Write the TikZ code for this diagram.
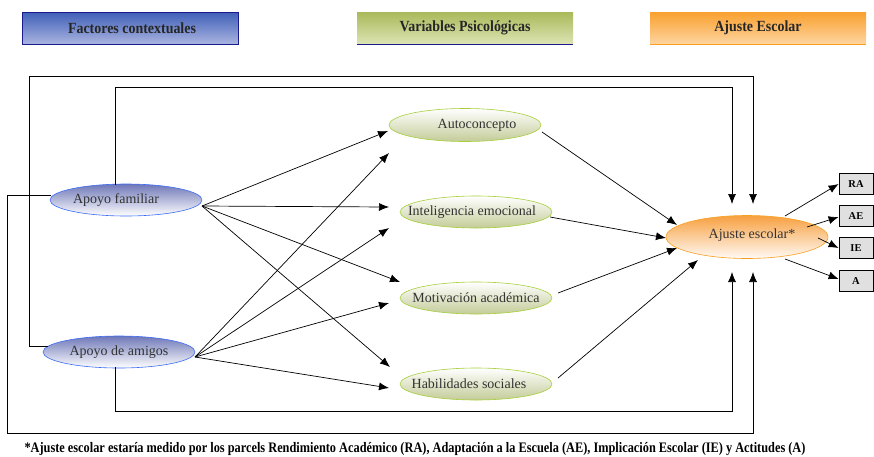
\documentclass[tikz,border=0pt]{standalone}
\usepackage{fontspec}
\setmainfont{Liberation Serif}
\newfontfamily\hdrfont[FakeStretch=0.9]{Liberation Serif}
\newfontfamily\notefont[FakeStretch=0.85]{Liberation Serif}
\usetikzlibrary{shapes.geometric,arrows.meta}
\definecolor{hblueT}{HTML}{3F5FB8}
\definecolor{hblueB}{HTML}{AAB4E0}
\definecolor{hgreenT}{HTML}{AAB95A}
\definecolor{hgreenB}{HTML}{DDE4B4}
\definecolor{horT}{HTML}{F9A02E}
\definecolor{horB}{HTML}{FED5A0}
\definecolor{navy}{HTML}{1A1A8C}
\definecolor{eblue}{HTML}{3D6CF5}
\definecolor{eblueT}{HTML}{6E78B8}
\definecolor{egreen}{HTML}{A6CF3A}
\definecolor{egreenB}{HTML}{C3CC98}
\definecolor{eor}{HTML}{F7A020}
\definecolor{eorT}{HTML}{F7A040}
\definecolor{txt}{HTML}{333333}
\definecolor{lgray}{HTML}{E0E0E0}
\tikzset{
  hdr/.style={rectangle, minimum width=216pt, minimum height=32pt, inner sep=0pt,
    font=\hdrfont\bfseries\fontsize{15.5}{17}\selectfont, text=black!85},
  ell/.style={ellipse, minimum width=152pt, minimum height=32pt, inner xsep=-30pt, inner ysep=0pt,
    font=\fontsize{14}{16}\selectfont, text=txt, line width=0.6pt},
  ctx/.style={ell, draw=eblue, top color=eblueT, bottom color=white},
  psy/.style={ell, draw=egreen, top color=white, bottom color=egreenB},
  outc/.style={ell, draw=eor, top color=eorT, bottom color=white!96!orange,
    minimum width=162pt, minimum height=43pt},
  ind/.style={rectangle, draw=black, fill=lgray, minimum width=34pt, minimum height=21pt,
    inner sep=0pt, line width=0.8pt, font=\bfseries\fontsize{10.5}{12}\selectfont},
  arr/.style={-{Latex[length=10pt,width=8pt]}, line width=0.7pt, black},
}
\begin{document}
\begin{tikzpicture}[x=1pt,y=-1pt]
\useasboundingbox (0,0) rectangle (874,456);
% headers
\node[hdr, top color=hblueT, bottom color=hblueB, draw=navy, line width=0.6pt] (h1) at (130,28) {\hspace*{4pt}Factores contextuales};
\node[hdr, top color=hgreenT, bottom color=hgreenB] (h2) at (465,28) {Variables Psicológicas};
\draw[navy, line width=1pt] (h2.south west) -- (h2.south east);
\node[hdr, top color=horT, bottom color=horB] (h3) at (758,28) {Ajuste Escolar};
\draw[eor, line width=1pt] (h3.south west) -- (h3.south east);

% ellipses
\node[ctx] (fam) at (126,200) {\hspace*{-20pt}\raisebox{2pt}{Apoyo familiar}};
\node[ctx] (ami) at (119,352) {Apoyo de amigos};
\node[psy, minimum height=33pt] (auto) at (465,125) {\hspace*{24pt}\raisebox{2pt}{Autoconcepto}};
\node[psy] (inte) at (476,212) {\hspace*{-8pt}Inteligencia emocional};
\node[psy] (moti) at (476,298) {Motivación académica};
\node[psy] (habi) at (476,384) {\hspace*{-14pt}Habilidades sociales};
\node[outc] (aj) at (747,237) {\hspace*{10pt}\raisebox{6pt}{Ajuste escolar*}};

% indicator boxes
\node[ind] (RA) at (856,184) {RA};
\node[ind] (AE) at (856,216) {AE};
\node[ind] (IE) at (856,248) {IE};
\node[ind] (A) at (856,281) {A};

% coordinates
\coordinate (famR) at (202,206);
\coordinate (amiR) at (195,357);
\coordinate (tFauto) at (388,131);
\coordinate (tFinte) at (389,207);
\coordinate (tFmoti) at (400,282);
\coordinate (tFhabi) at (390,367);
\coordinate (tAauto) at (389,153);
\coordinate (tAinte) at (389,228);
\coordinate (tAmoti) at (389,303);
\coordinate (tAhabi) at (389,388);
\coordinate (sauto) at (542,132);
\coordinate (sinte) at (550,217);
\coordinate (smoti) at (558,293);
\coordinate (shabi) at (558,378);
\coordinate (tauto) at (677,225);
\coordinate (tinte) at (666,238);
\coordinate (tmoti) at (677,248);
\coordinate (thabi) at (698,260);
\coordinate (sRA) at (785,216);
\coordinate (sAE) at (807,227);
\coordinate (sIE) at (818,238);
\coordinate (sA) at (785,259);
\coordinate (topI) at (732,204);
\coordinate (topO) at (753,204);
\coordinate (botI) at (732,272);
\coordinate (botO) at (753,272);
\coordinate (famT) at (115,185);
\coordinate (amiB) at (115,367);
\coordinate (famL) at (51,195);
\coordinate (amiL) at (48,346);
\coordinate (cTI) at (732,87);
\coordinate (cTO) at (753,76);
\coordinate (cBI) at (732,411);
\coordinate (cBO) at (753,433);
\coordinate (cL1) at (7,195);
\coordinate (cL2) at (7,433);
\coordinate (cM1) at (29,346);
\coordinate (cM2) at (29,76);

% frame paths
\draw[arr] (famT) |- (cTI) -- (topI);
\draw[arr] (amiB) |- (cBI) -- (botI);
\draw[arr] (famL) -- (cL1) -- (cL2) -- (cBO) -- (botO);
\draw[arr] (amiL) -- (cM1) -- (cM2) -- (cTO) -- (topO);

% context -> psych
\foreach \t in {tFauto,tFinte,tFmoti,tFhabi} \draw[arr] (famR) -- (\t);
\foreach \t in {tAauto,tAinte,tAmoti,tAhabi} \draw[arr] (amiR) -- (\t);
% psych -> outcome
\draw[arr] (sauto) -- (tauto);
\draw[arr] (sinte) -- (tinte);
\draw[arr] (smoti) -- (tmoti);
\draw[arr] (shabi) -- (thabi);
% outcome -> indicators
\draw[arr] (sRA) -- (RA.west);
\draw[arr] (sAE) -- ([yshift=-1pt]AE.west);
\draw[arr] (sIE) -- (IE.west);
\draw[arr] (sA) -- ([yshift=2pt]A.west);

% footnote
\node[font=\notefont\bfseries\fontsize{14.5}{16}\selectfont, inner sep=0pt] (note) at (415,449)
  {*Ajuste escolar estaría medido por los parcels Rendimiento Académico (RA), Adaptación a la Escuela (AE), Implicación Escolar (IE) y Actitudes (A)};
\end{tikzpicture}
\end{document}
